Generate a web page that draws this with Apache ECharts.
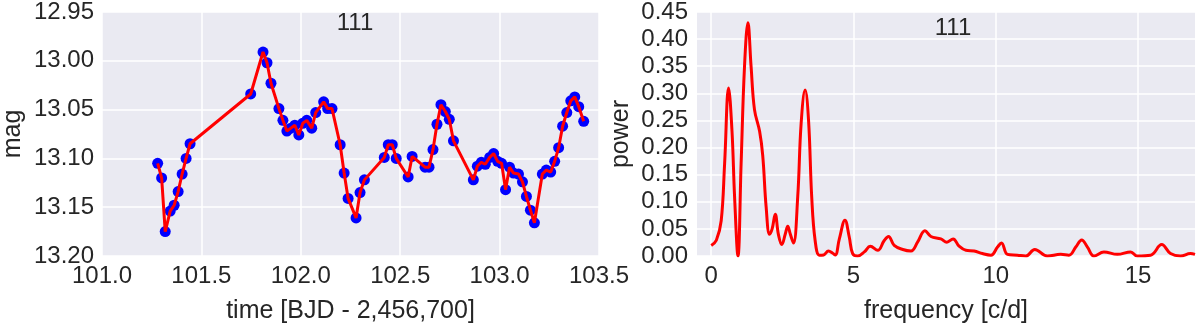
<!DOCTYPE html>
<html>
<head>
<meta charset="utf-8">
<script src="https://cdn.jsdelivr.net/npm/echarts@6/dist/echarts.min.js"></script>
<style>
  html, body { margin: 0; padding: 0; background: #fff; }
  #main { width: 1200px; height: 329px; }
</style>
</head>
<body>
<div id="main"></div>
<script>
// light curve (left panel)
const timeVals = [101.28, 101.30, 101.318, 101.343, 101.363, 101.383, 101.403, 101.423, 101.443,
  101.748, 101.81, 101.83, 101.85, 101.89, 101.91, 101.93, 101.95, 101.97, 101.99, 102.01, 102.03,
  102.055, 102.075, 102.115, 102.135, 102.157, 102.198, 102.218, 102.238, 102.278, 102.298, 102.32,
  102.42, 102.44, 102.46, 102.48, 102.54, 102.56, 102.625, 102.645, 102.665, 102.685, 102.705,
  102.727, 102.747, 102.768, 102.868, 102.888, 102.908, 102.928, 102.95, 102.97, 102.99, 103.01,
  103.03, 103.05, 103.07, 103.095, 103.115, 103.135, 103.155, 103.175, 103.215, 103.235, 103.257,
  103.277, 103.297, 103.317, 103.338, 103.358, 103.378, 103.398, 103.423];
const magVals = [13.105, 13.120, 13.175, 13.154, 13.148, 13.134, 13.116, 13.100, 13.085,
  13.034, 12.991, 13.002, 13.023, 13.049, 13.061, 13.072, 13.069, 13.066, 13.076, 13.064, 13.061,
  13.069, 13.053, 13.042, 13.049, 13.049, 13.086, 13.115, 13.141, 13.161, 13.135, 13.122,
  13.099, 13.086, 13.086, 13.100, 13.119, 13.098, 13.109, 13.109, 13.091, 13.065, 13.045,
  13.052, 13.060, 13.082, 13.122, 13.108, 13.104, 13.106, 13.099, 13.095, 13.103, 13.105,
  13.132, 13.109, 13.115, 13.116, 13.124, 13.139, 13.153, 13.166, 13.116, 13.112, 13.114,
  13.103, 13.089, 13.067, 13.053, 13.041, 13.037, 13.047, 13.062];

// periodogram (right panel)
const freqVals = [0, 0.18, 0.35, 0.47, 0.61, 0.73, 0.82, 0.94, 1.05, 1.17, 1.29, 1.40, 1.52, 1.70,
  1.81, 1.93, 2.05, 2.14, 2.25, 2.36, 2.48, 2.6, 2.69, 2.78, 2.89, 3.04, 3.16, 3.30, 3.42, 3.53,
  3.65, 3.80, 3.95, 4.12, 4.27, 4.36, 4.50, 4.70, 4.85, 4.97, 5.15, 5.38, 5.59, 5.85, 6.08, 6.23,
  6.43, 6.73, 7.02, 7.25, 7.51, 7.72, 8.07, 8.28, 8.50, 8.71, 8.95, 9.24, 9.53, 9.83, 10.06, 10.20,
  10.41, 10.76, 11.05, 11.37, 11.81, 12.28, 12.57, 12.81, 13.02, 13.22, 13.45, 13.80, 14.27,
  14.74, 14.97, 15.44, 15.83, 16.14, 16.49, 16.84, 17.0];
const powerVals = [0.0195, 0.029, 0.065, 0.17, 0.31, 0.23, 0.11, 0.0, 0.17, 0.35, 0.43, 0.35, 0.27,
  0.23, 0.185, 0.09, 0.04, 0.05, 0.077, 0.04, 0.021, 0.04, 0.055, 0.04, 0.024, 0.11, 0.245, 0.306,
  0.25, 0.11, 0.029, 0.0015, 0.002, 0.009, 0.005, 0.002, 0.031, 0.066, 0.035, 0.0045, 0.0, 0.0075,
  0.018, 0.0105, 0.0285, 0.036, 0.0195, 0.012, 0.0093, 0.0255, 0.0465, 0.036, 0.0315, 0.0255,
  0.0315, 0.018, 0.0105, 0.0093, 0.0045, 0.0015, 0.0165, 0.024, 0.003, 0.0015, 0.0, 0.012, 0.0,
  0.003, 0.0015, 0.0165, 0.0297, 0.0165, 0.0, 0.0075, 0.003, 0.0075, 0.0, 0.0015, 0.021, 0.0045,
  0.0, 0.0045, 0.003];
const freqTicks = [0, 5, 10, 15];

const panelTitle = '111';
const font = 'Liberation Sans, Arial, sans-serif';
const txt = '#262626';

const lcData = timeVals.map((t, i) => [t, magVals[i]]);
const pgData = freqVals.map((f, i) => [f, powerVals[i]]);

const chart = echarts.init(document.getElementById('main'), null, { renderer: 'canvas' });

function axisCommon(extra) {
  return Object.assign({
    axisLine: { show: false },
    splitLine: { show: true, lineStyle: { color: '#ffffff', width: 1.5 } },
    nameTextStyle: { fontFamily: font, fontSize: 25, color: txt },
  }, extra);
}

const option = {
  animation: false,
  backgroundColor: '#ffffff',
  title: [
    { text: panelTitle, left: 350, top: 6, textAlign: 'center',
      textStyle: { fontFamily: font, fontSize: 24, fontWeight: 'normal', color: txt } },
    { text: panelTitle, left: 948, top: 11, textAlign: 'center',
      textStyle: { fontFamily: font, fontSize: 24, fontWeight: 'normal', color: txt } }
  ],
  grid: [
    { left: 99, right: 601, top: 12, bottom: 66, show: true, backgroundColor: '#EAEAF2', borderWidth: 0 },
    { left: 697, right: 5, top: 12, bottom: 66, show: true, backgroundColor: '#EAEAF2', borderWidth: 0 }
  ],
  xAxis: [
    axisCommon({
      gridIndex: 0, type: 'value', min: 101, max: 103.5, interval: 0.5,
      name: 'time [BJD - 2,456,700]', nameLocation: 'middle', nameGap: 43,
      axisTick: { show: false },
      axisLabel: { fontFamily: font, fontSize: 24, color: txt, margin: 8,
        formatter: v => v.toFixed(1) }
    }),
    axisCommon({
      gridIndex: 1, type: 'value', min: -0.5, max: 17,
      name: 'frequency [c/d]', nameLocation: 'middle', nameGap: 43,
      axisTick: { show: false, customValues: freqTicks },
      axisLabel: { fontFamily: font, fontSize: 24, color: txt, margin: 8,
        customValues: freqTicks, formatter: v => String(v) }
    })
  ],
  yAxis: [
    axisCommon({
      gridIndex: 0, type: 'value', inverse: true, min: 12.95, max: 13.2, interval: 0.05,
      name: 'mag', nameLocation: 'middle', nameGap: 76,
      axisTick: { show: false },
      axisLabel: { fontFamily: font, fontSize: 24, color: txt, margin: 8,
        formatter: v => v.toFixed(2) }
    }),
    axisCommon({
      gridIndex: 1, type: 'value', min: 0, max: 0.45, interval: 0.05,
      name: 'power', nameLocation: 'middle', nameGap: 63,
      axisTick: { show: false },
      axisLabel: { fontFamily: font, fontSize: 24, color: txt, margin: 9,
        formatter: v => v.toFixed(2) }
    })
  ],
  series: [
    {
      type: 'scatter', xAxisIndex: 0, yAxisIndex: 0, data: lcData, z: 2,
      symbol: 'circle', symbolSize: 11,
      itemStyle: { color: '#0000ff', opacity: 1 }
    },
    {
      type: 'line', xAxisIndex: 0, yAxisIndex: 0, data: lcData, z: 3,
      showSymbol: false, symbol: 'none',
      lineStyle: { color: '#ff0000', width: 3 }
    },
    {
      type: 'line', xAxisIndex: 1, yAxisIndex: 1, data: pgData, z: 3,
      showSymbol: false, symbol: 'none', smooth: 0.4,
      lineStyle: { color: '#ff0000', width: 3 }
    }
  ]
};

chart.setOption(option);
</script>
</body>
</html>
